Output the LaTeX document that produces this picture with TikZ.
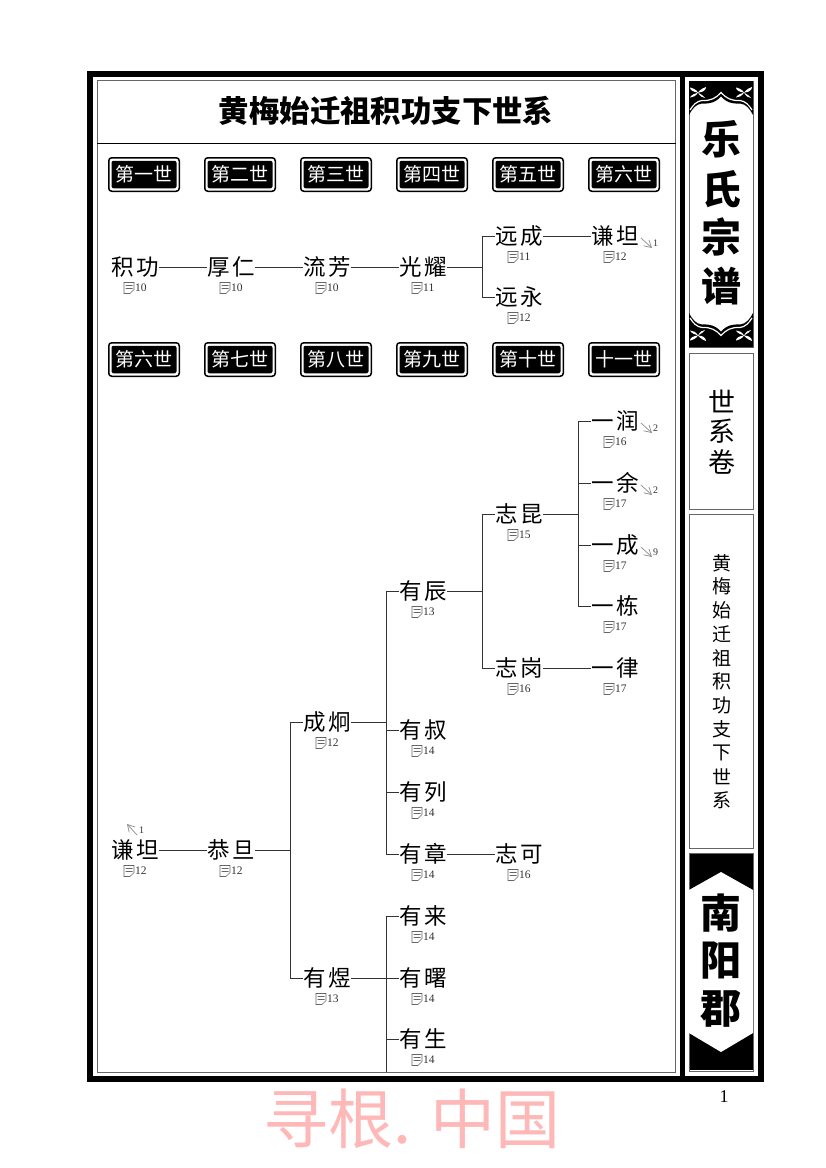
\documentclass[tikz,border=0pt]{standalone}
\usepackage{fontspec}
\setmainfont{Liberation Serif}
\newfontfamily\cjk{Noto Sans CJK SC}
\usetikzlibrary{arrows.meta}
\tikzset{
 x=1pt,y=-1pt,
 conn/.style={draw=black!80,line width=1pt},
 person/.style={inner sep=0pt,font=\cjk\fontsize{22.5}{24}\selectfont},
 pagenum/.style={inner sep=0pt,anchor=west,font=\fontsize{11.5}{11.5}\selectfont,text=black!80},
 xnum/.style={inner sep=0pt,anchor=west,font=\fontsize{10}{10}\selectfont,text=black!80},
 genbox/.style={draw=black,line width=1.5pt,rounded corners=3pt,minimum width=70.5pt,minimum height=33.5pt,inner sep=0pt},
 geninner/.style={fill=black,rounded corners=2pt,text=white,minimum width=65pt,minimum height=27.5pt,inner sep=0pt,font=\cjk\fontsize{19}{20}\selectfont},
 sidebold/.style={inner sep=0pt,font=\cjk\bfseries\fontsize{40}{42}\selectfont},
 sidemid/.style={inner sep=0pt,font=\cjk\fontsize{27}{28}\selectfont},
 sidesmall/.style={inner sep=0pt,font=\cjk\fontsize{19}{20}\selectfont},
 panel/.style={draw=black!60,line width=1pt},
 xref/.style={draw=black!45,line width=0.7pt,-{Straight Barb[length=7pt,width=8pt]}},
}
\newcommand\nm[2]{#1\kern2.5pt #2}
\newcommand\pers[5]{% name,x,y,text,page
 \node[person] (#1) at (#2,#3) {#4};
 \node[pagenum] (#1-p) at ([shift={(0,21)}]#1.center) {#5};
 \draw[black!60,line width=0.6pt] ([shift={(-11,-5.5)}]#1-p.west) -- ++(10,0) -- ++(0,7) -- ++(-4,4) -- ++(-6,0) -- cycle
   ([shift={(-9.5,-2.5)}]#1-p.west) -- ++(7,0) ([shift={(-9.5,0.5)}]#1-p.west) -- ++(7,0);
}
\newcommand\gen[3]{%
 \node[genbox] (#1) at #2 {};
 \node[geninner] at (#1.center) {#3};
}
\newcommand\xto[2]{% person, number
 \draw[xref] ([shift={(2,2)}]#1.east) -- ([shift={(13,12)}]#1.east);
 \node[xnum] (#1-n) at ([shift={(14,7)}]#1.east) {#2};
}
\newcommand\bra[2]{\draw[conn] (#1.east) -- (#2.west);}
\newcommand\ornament[1]{%
 \begin{scope}[#1]
  \fill[black] (689,81) -- (753,81) -- (753,115)
    .. controls (750,109) and (746,104) .. (740,103.5)
    .. controls (731,104) and (726,102) .. (721,96.5)
    .. controls (716,102) and (711,104) .. (702,103.5)
    .. controls (696,104) and (692,109) .. (689,115) -- cycle;
  \draw[white,line width=1.2pt] (690,110)
    .. controls (693,105) and (697,101) .. (702,100.5)
    .. controls (711,101) and (716,98) .. (721,92.5)
    .. controls (726,98) and (731,101) .. (740,100.5)
    .. controls (745,101) and (749,105) .. (752,110);
  \foreach \cx/\dx in {698/1,744/-1}{
   % four petals of an X-shaped flower
   \fill[white] (\cx,92.5)
     .. controls (\cx-2,89) and (\cx-6,88) .. (\cx-8,87.5) .. controls (\cx-8,90) and (\cx-5,92) .. (\cx,92.5)
     .. controls (\cx+3,89) and (\cx+6,87.5) .. (\cx+8,87) .. controls (\cx+8,90) and (\cx+5,92.5) .. (\cx,92.5)
     .. controls (\cx+3,94) and (\cx+6,96.5) .. (\cx+7,98) .. controls (\cx+4,98) and (\cx+2,96) .. (\cx,92.5)
     .. controls (\cx-2,96) and (\cx-5,97.5) .. (\cx-8,97.5) .. controls (\cx-7,95) and (\cx-3,93.5) .. (\cx,92.5) -- cycle;
  }
 \end{scope}
}
\begin{document}
\begin{tikzpicture}
\useasboundingbox (0,0) rectangle (826,1168);
\fill[white] (0,0) rectangle (826,1168);
% outer frame
\draw[black,line width=6pt] (90,74) rectangle (761,1079);
\fill[black] (679.5,74) rectangle (684.5,1079);
\draw[panel] (97,80.5) rectangle (675.5,1072);
\draw[black,line width=0.9pt] (97,143.5) -- (675.5,143.5);
\node[inner sep=0pt,font=\cjk\bfseries\fontsize{30.4}{32}\selectfont] (title) at (386,111) {黄梅始迁祖积功支下世系};
% sidebar panels
\draw[panel] (689,81) rectangle (753,347);
\ornament{}
\ornament{yshift=-428pt,yscale=-1}
\draw[panel] (689,353) rectangle (753,509);
\draw[panel] (689,514) rectangle (753,848);
\fill[black] (689,853) rectangle (753,1070);
\draw[panel] (689,853) rectangle (753,1071);
\fill[white] (721,872) -- (753,890) -- (753,1033) -- (721,1052) -- (689,1033) -- (689,890) -- cycle;
\node[sidebold] (s1) at (721,139) {乐};
\node[sidebold] (s2) at (721,189) {氏};
\node[sidebold] (s3) at (721,237) {宗};
\node[sidebold] (s4) at (721,286) {谱};
\node[sidemid] (m1) at (722,401) {世};
\node[sidemid] (m2) at (722,431) {系};
\node[sidemid] (m3) at (722,462) {卷};
\foreach \c [count=\i from 0] in {黄,梅,始,迁,祖,积,功,支,下,世,系}{
 \node[sidesmall] (v\i) at (722,563+23.7*\i) {\c};
}
\node[sidebold,font=\cjk\bfseries\fontsize{41}{42}\selectfont] (n1) at (721,913) {南};
\node[sidebold,font=\cjk\bfseries\fontsize{41}{42}\selectfont] (n2) at (721,961) {阳};
\node[sidebold,font=\cjk\bfseries\fontsize{41}{42}\selectfont] (n3) at (721,1009) {郡};
\node[inner sep=0pt,font=\fontsize{18}{18}\selectfont] (pg) at (724,1097) {1};
\node[inner sep=0pt,text=red!28!white,font=\cjk\fontsize{65}{66}\selectfont] (wm) at (412,1119) {寻根. 中国};
% generation boxes
\foreach \t [count=\i from 0] in {第一世,第二世,第三世,第四世,第五世,第六世}{
 \gen{ga\i}{(144+96*\i,174.5)}{\t}
}
\foreach \t [count=\i from 0] in {第六世,第七世,第八世,第九世,第十世,十一世}{
 \gen{gb\i}{(144+96*\i,359.5)}{\t}
}
% tree 1
\pers{a1}{135}{267}{\nm{积}{功}}{10}
\pers{a2}{231}{267}{\nm{厚}{仁}}{10}
\pers{a3}{327}{267}{\nm{流}{芳}}{10}
\pers{a4}{423}{267}{\nm{光}{耀}}{11}
\pers{a5}{519}{236}{\nm{远}{成}}{11}
\pers{a6}{615}{236}{\nm{谦}{坦}}{12}
\pers{a7}{519}{297}{\nm{远}{永}}{12}
\bra{a1}{a2}\bra{a2}{a3}\bra{a3}{a4}\bra{a5}{a6}
\coordinate (ja) at (482,267);
\draw[conn] (a4.east) -- (ja) (a5.west) -| (ja) (a7.west) -| (ja);
\xto{a6}{1}
% tree 2
\pers{b1}{135}{850}{\nm{谦}{坦}}{12}
\pers{b2}{231}{850}{\nm{恭}{旦}}{12}
\pers{c1}{327}{722}{\nm{成}{炯}}{12}
\pers{c2}{327}{978}{\nm{有}{煜}}{13}
\pers{d1}{423}{591}{\nm{有}{辰}}{13}
\pers{d2}{423}{730}{\nm{有}{叔}}{14}
\pers{d3}{423}{792}{\nm{有}{列}}{14}
\pers{d4}{423}{854}{\nm{有}{章}}{14}
\pers{d5}{423}{916}{\nm{有}{来}}{14}
\pers{d6}{423}{978}{\nm{有}{曙}}{14}
\pers{d7}{423}{1039}{\nm{有}{生}}{14}
\pers{e1}{519}{514}{\nm{志}{昆}}{15}
\pers{e2}{519}{668}{\nm{志}{岗}}{16}
\pers{e3}{519}{854}{\nm{志}{可}}{16}
\pers{f1}{615}{421}{\nm{一}{润}}{16}
\pers{f2}{615}{483}{\nm{一}{余}}{17}
\pers{f3}{615}{545}{\nm{一}{成}}{17}
\pers{f4}{615}{606}{\nm{一}{栋}}{17}
\pers{f5}{615}{668}{\nm{一}{律}}{17}
\bra{b1}{b2}\bra{d4}{e3}\bra{e2}{f5}
\coordinate (jb) at (290,850);
\draw[conn] (b2.east) -- (jb) (c1.west) -| (jb) (c2.west) -| (jb);
\coordinate (jc) at (386,722);
\draw[conn] (c1.east) -- (jc) (d1.west) -| (jc) (d2.west) -| (jc) (d3.west) -| (jc) (d4.west) -| (jc);
\coordinate (jd) at (386,978);
\coordinate (je) at (386,1072);
\draw[conn] (c2.east) -- (d6.west) (d5.west) -| (jd) (jd) -- (je) (d7.west) -- (d7.west -| jd);
\coordinate (jf) at (482,591);
\draw[conn] (d1.east) -- (jf) (e1.west) -| (jf) (e2.west) -| (jf);
\coordinate (jg) at (578,514);
\draw[conn] (e1.east) -- (jg) (f1.west) -| (jg) (f2.west) -| (jg) (f3.west) -| (jg) (f4.west) -| (jg);
\xto{f1}{2}
\xto{f2}{2}
\xto{f3}{9}
\draw[xref] ([shift={(2,-15)}]b1.center) -- ([shift={(-8,-26)}]b1.center);
\node[xnum] (b1-n) at ([shift={(4,-20)}]b1.center) {1};
\end{tikzpicture}
\end{document}
